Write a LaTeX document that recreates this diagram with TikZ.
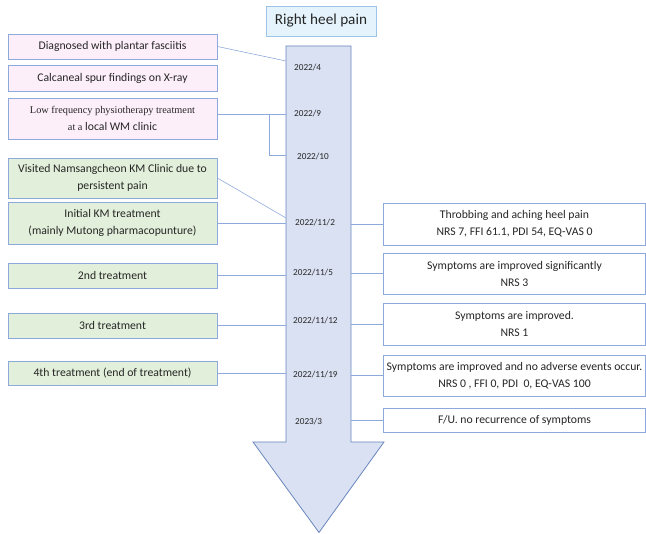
\documentclass[tikz,border=0pt]{standalone}
\usepackage{fontspec}
\setmainfont{Carlito}
\newfontfamily\serifx{Liberation Serif}
\definecolor{bord}{HTML}{8EA9DB}
\definecolor{pinkf}{HTML}{FCEFFA}
\definecolor{greenf}{HTML}{E2EFDA}
\definecolor{arrowf}{HTML}{D9E1F2}
\definecolor{arrowd}{HTML}{6A86BE}
\definecolor{titlef}{HTML}{E5F4FC}
\definecolor{titled}{HTML}{9DC3E6}
\definecolor{txt}{HTML}{262626}
\begin{document}
\begin{tikzpicture}[x=1pt,y=-1pt,
  base/.style={draw=bord,line width=0.8pt,align=center,inner sep=1pt,text=txt,font=\fontsize{11.7}{17}\selectfont},
  pbox/.style={base,fill=pinkf,minimum width=209pt},
  gbox/.style={base,fill=greenf,minimum width=209pt},
  rbox/.style={base,fill=white,minimum width=262pt},
  conn/.style={draw=bord,line width=0.6pt},
  datelbl/.style={anchor=west,text=txt,inner sep=0pt,font=\fontsize{9.2}{11}\selectfont}]
\useasboundingbox (0,0) rectangle (646,534);
% arrow
\draw[fill=arrowf,draw=arrowd,line width=0.8pt] (286,46) -- (351,46) -- (351,442) -- (384,442) -- (319,532.5) -- (253,442) -- (286,442) -- cycle;
\coordinate (sl) at (286,0);
\coordinate (sr) at (351,0);
% title
\node[base,draw=titled,fill=titlef,minimum width=110pt,minimum height=30pt,font=\fontsize{15.2}{18}\selectfont] (title) at (321,21) {Right heel pain};
% left boxes
\node[pbox,minimum height=25pt] (b1) at (112.5,46.5) {Diagnosed with plantar fasciitis};
\node[pbox,minimum height=26pt] (b2) at (112.5,78) {Calcaneal spur findings on X-ray};
\node[pbox,minimum height=41pt] (b3) at (112.5,118.5) {{\serifx\fontsize{10.3}{13}\selectfont Low frequency physiotherapy treatment}\\{\serifx\fontsize{10.3}{13}\selectfont at a} local WM clinic};
\node[gbox,minimum height=40pt] (b4) at (112.5,178) {Visited Namsangcheon KM Clinic due to\\persistent pain};
\node[gbox,minimum height=42pt] (b5) at (112.5,223) {Initial KM treatment\\(mainly Mutong pharmacopunture)};
\node[gbox,minimum height=25pt] (b6) at (112.5,275.5) {2nd treatment};
\node[gbox,minimum height=25pt] (b7) at (112.5,325.5) {3rd treatment};
\node[gbox,minimum height=24pt] (b8) at (112.5,373) {4th treatment (end of treatment)};
% right boxes
\node[rbox,minimum height=42pt] (r1) at (514.5,224) {Throbbing and aching heel pain\\NRS 7, FFI 61.1, PDI 54, EQ-VAS 0};
\node[rbox,minimum height=41pt] (r2) at (514.5,273.5) {Symptoms are improved significantly\\NRS 3};
\node[rbox,minimum height=42pt] (r3) at (514.5,324) {Symptoms are improved.\\NRS 1};
\node[rbox,minimum height=41pt] (r4) at (514.5,375.5) {Symptoms are improved and no adverse events occur.\\NRS 0 , FFI 0, PDI\ \ 0, EQ-VAS 100};
\node[rbox,minimum height=24pt] (r5) at (514.5,420) {F/U. no recurrence of symptoms};
% dates
\node[datelbl] (d1) at (294,68) {2022/4};
\node[datelbl] (d2) at (294,114) {2022/9};
\node[datelbl] (d3) at (297,157) {2022/10};
\node[datelbl] (d4) at (295,223) {2022/11/2};
\node[datelbl] (d5) at (293,273) {2022/11/5};
\node[datelbl] (d6) at (293,321) {2022/11/12};
\node[datelbl] (d7) at (293,375) {2022/11/19};
\node[datelbl] (d8) at (295,422) {2023/3};
% connectors
\coordinate (c1) at (286,61);
\coordinate (c4) at (286,218);
\coordinate (cv) at (269,114);
\coordinate (c3) at (286,155);
\draw[conn] (b1.east) -- (c1);
\draw[conn] (b3.east |- cv) -- (cv -| sl);
\draw[conn] (cv) |- (c3);
\draw[conn] (b4.east) -- (c4);
\draw[conn] (b5.east) -- (b5.east -| sl);
\draw[conn] (b6.east) -- (b6.east -| sl);
\draw[conn] (b7.east) -- (b7.east -| sl);
\draw[conn] (b8.east) -- (b8.east -| sl);
\draw[conn] (r1.west -| sr) -- (r1.west);
\draw[conn] (r2.west -| sr) -- (r2.west);
\draw[conn] (r3.west -| sr) -- (r3.west);
\draw[conn] (r4.west -| sr) -- (r4.west);
\draw[conn] (r5.west -| sr) -- (r5.west);
\end{tikzpicture}
\end{document}
